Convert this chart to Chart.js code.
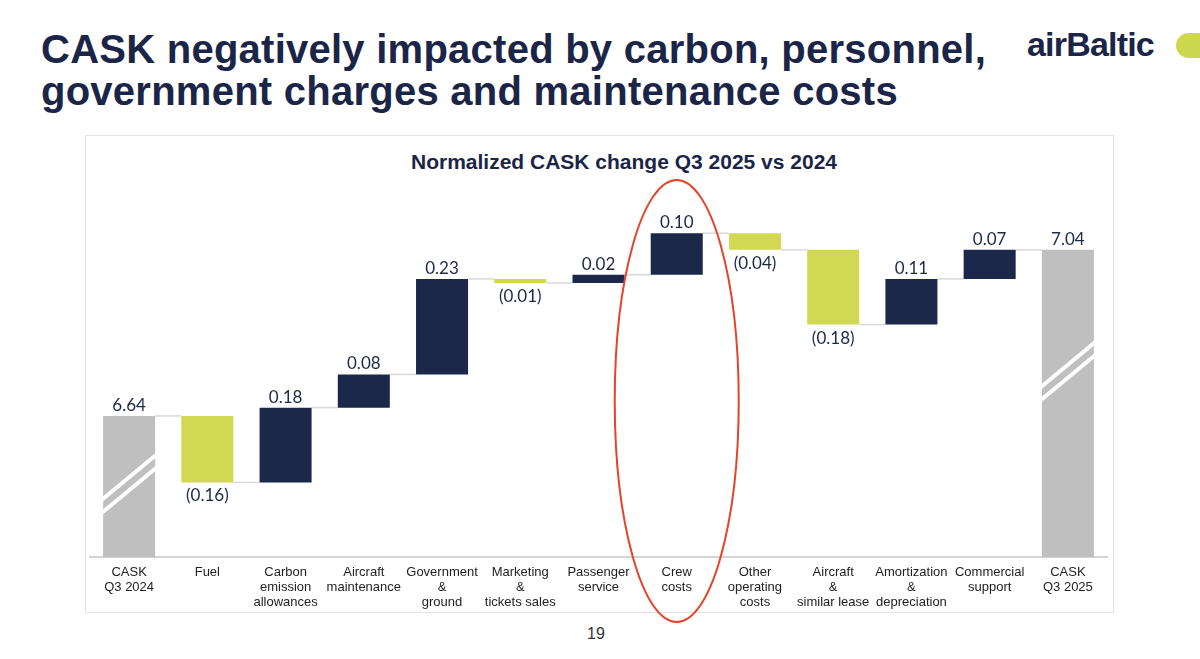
<!DOCTYPE html>
<html>
<head>
<meta charset="utf-8">
<script src="https://cdn.jsdelivr.net/npm/chart.js@4.4.1/dist/chart.umd.min.js"></script>
<style>
  html, body { margin: 0; padding: 0; background: #fff; }
  body { width: 1200px; height: 659px; position: relative; overflow: hidden; font-family: "Liberation Sans", Arial, sans-serif; }
  .headline { position: absolute; left: 41px; top: 28px; margin: 0; font-size: 40px; line-height: 42px; font-weight: bold; color: #1b2547; letter-spacing: 0.25px; }
  .logo { position: absolute; left: 1027px; top: 27px; font-size: 34px; line-height: 34px; font-weight: bold; color: #1b2547; letter-spacing: -0.8px; }
  .dot { position: absolute; left: 1176px; top: 33px; width: 40px; height: 25px; border-radius: 13px; background: #cdd84f; }
  .box { position: absolute; left: 85px; top: 135px; width: 1027px; height: 476px; border: 1px solid #e3e3e3; }
  .subtitle { position: absolute; left: 0; width: 1248px; top: 150px; text-align: center; font-size: 21px; font-weight: bold; color: #1b2547; }
  .page { position: absolute; left: 0; width: 1192px; top: 625px; text-align: center; font-size: 16px; color: #333; }
  canvas { position: absolute; left: 0; top: 0; }
</style>
</head>
<body>
<h1 class="headline">CASK negatively impacted by carbon, personnel,<br>government charges and maintenance costs</h1>
<div class="logo">airBaltic</div>
<div class="dot"></div>
<div class="box"></div>
<div class="subtitle">Normalized CASK change Q3 2025 vs 2024</div>
<div class="page">19</div>
<canvas id="chartCask" width="1200" height="659"></canvas>
<script>
// categories (multi-line tick labels)
var categories = [
    ['CASK', 'Q3 2024'],
    ['Fuel'],
    ['Carbon', 'emission', 'allowances'],
    ['Aircraft', 'maintenance'],
    ['Government', '&', 'ground'],
    ['Marketing', '&', 'tickets sales'],
    ['Passenger', 'service'],
    ['Crew', 'costs'],
    ['Other', 'operating', 'costs'],
    ['Aircraft', '&', 'similar lease'],
    ['Amortization', '&', 'depreciation'],
    ['Commercial', 'support'],
    ['CASK', 'Q3 2025']
];
var startCask = 6.64;
var endCask = 7.04;
var changes = [-0.16, 0.18, 0.08, 0.23, -0.01, 0.02, 0.10, -0.04, -0.18, 0.11, 0.07];
var axisMin = 6.30;
var axisMax = 7.16;

var navy = '#1b2849';
var lime = '#d0d951';
var grey = '#bfbfbf';

// build floating bars for the waterfall
var bars = [[axisMin, startCask]];
var colors = [grey];
var labels = [startCask.toFixed(2)];
var ends = [startCask];
var running = startCask;
changes.forEach(function (c) {
    var next = running + c;
    bars.push([Math.min(running, next), Math.max(running, next)]);
    colors.push(c < 0 ? lime : navy);
    labels.push(c < 0 ? '(' + Math.abs(c).toFixed(2) + ')' : c.toFixed(2));
    ends.push(next);
    running = next;
});
bars.push([axisMin, endCask]);
colors.push(grey);
labels.push(endCask.toFixed(2));
ends.push(endCask);

var waterfallExtras = {
    id: 'waterfallExtras',
    beforeDatasetsDraw: function (chart) {
        var ctx = chart.ctx;
        var meta = chart.getDatasetMeta(0);
        var y = chart.scales.y;
        ctx.save();
        ctx.strokeStyle = '#d9d9d9';
        ctx.lineWidth = 1.5;
        for (var i = 0; i < meta.data.length - 1; i++) {
            var a = meta.data[i], b = meta.data[i + 1];
            var py = y.getPixelForValue(ends[i]);
            ctx.beginPath();
            ctx.moveTo(a.x + a.width / 2, py);
            ctx.lineTo(b.x - b.width / 2, py);
            ctx.stroke();
        }
        ctx.restore();
    },
    afterDatasetsDraw: function (chart) {
        var ctx = chart.ctx;
        var meta = chart.getDatasetMeta(0);
        ctx.save();
        // axis break marks on the two totals
        [[0, 0.48], [meta.data.length - 1, 0.395]].forEach(function (b) {
            var el = meta.data[b[0]];
            var top = Math.min(el.y, el.base), h = Math.abs(el.base - el.y);
            var cy = top + h * b[1];
            var half = el.width / 2 + 6;
            ctx.strokeStyle = '#ffffff';
            ctx.lineWidth = 4;
            [-6.5, 6.5].forEach(function (off) {
                ctx.beginPath();
                ctx.moveTo(el.x - half, cy + off + 26.5);
                ctx.lineTo(el.x + half, cy + off - 26.5);
                ctx.stroke();
            });
        });
        // value labels
        ctx.fillStyle = navy;
        ctx.font = '17px Lato, "Noto Sans", sans-serif';
        ctx.textAlign = 'center';
        ctx.textBaseline = 'alphabetic';
        meta.data.forEach(function (el, i) {
            var top = Math.min(el.y, el.base), bottom = Math.max(el.y, el.base);
            var neg = i > 0 && i < meta.data.length - 1 && changes[i - 1] < 0;
            ctx.fillText(labels[i], el.x, neg ? bottom + 19 : top - 5);
        });
        // red highlight ellipse around crew costs
        var crew = meta.data[7];
        ctx.strokeStyle = '#e5432b';
        ctx.lineWidth = 2;
        ctx.beginPath();
        ctx.ellipse(crew.x, 401, 62, 221, 0, 0, Math.PI * 2);
        ctx.stroke();
        ctx.restore();
    }
};

var ctx = document.getElementById('chartCask').getContext('2d');
var myChart = new Chart(ctx, {
    type: 'bar',
    data: {
        labels: categories,
        datasets: [{
            data: bars,
            backgroundColor: colors,
            borderWidth: 0,
            barPercentage: 1,
            categoryPercentage: 0.665
        }]
    },
    options: {
        responsive: false,
        animation: false,
        layout: { padding: { top: 200, left: 90, right: 93, bottom: 41 } },
        plugins: {
            legend: { display: false },
            tooltip: { enabled: false }
        },
        scales: {
            x: {
                grid: { display: false, drawTicks: false },
                border: { color: '#d4d4d4', width: 2 },
                ticks: {
                    color: '#222',
                    padding: 8,
                    maxRotation: 0,
                    autoSkip: false,
                    font: { family: '"Liberation Sans", Arial', size: 13, lineHeight: 1.15 }
                }
            },
            y: {
                display: false,
                min: axisMin,
                max: axisMax
            }
        }
    },
    plugins: [waterfallExtras]
});
</script>
</body>
</html>
